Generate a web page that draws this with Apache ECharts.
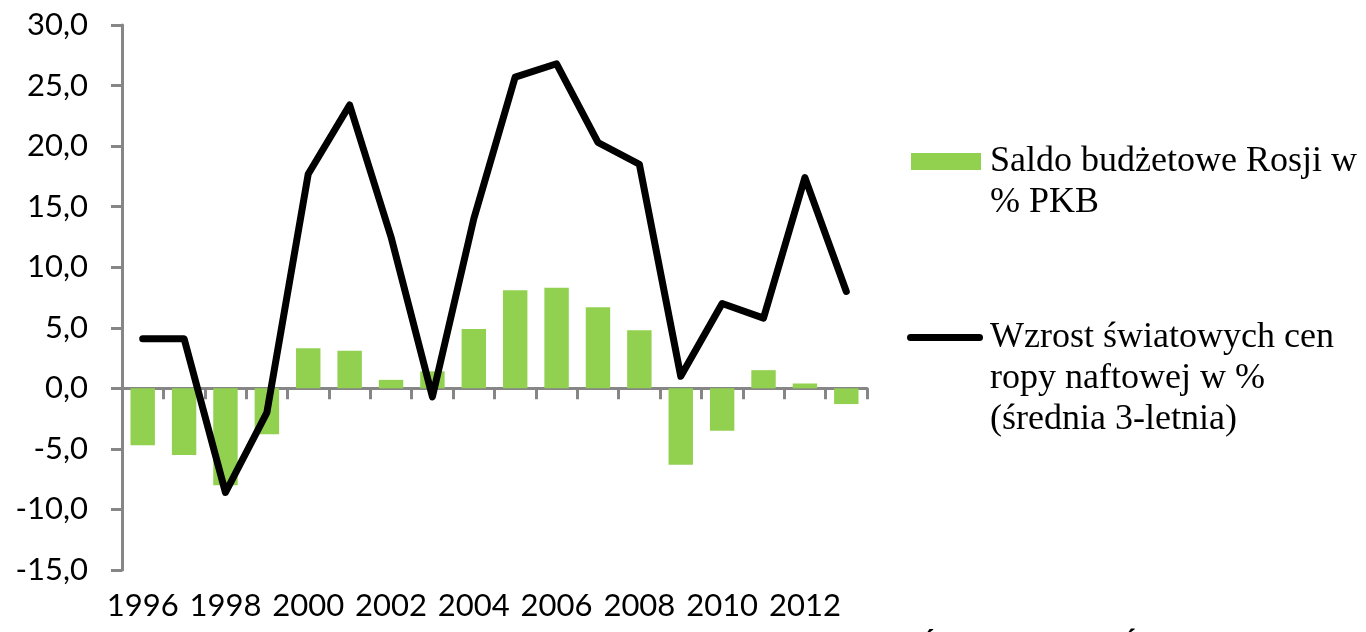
<!DOCTYPE html>
<html><head><meta charset="utf-8">
<script src="https://cdn.jsdelivr.net/npm/echarts@6/dist/echarts.min.js"></script>
<style>html,body{margin:0;padding:0;background:#fff;overflow:hidden}#c{width:1366px;height:632px}</style>
</head><body><div id="c"></div>
<script>
// ---- data ----
const years = ['1996','1997','1998','1999','2000','2001','2002','2003','2004','2005','2006','2007','2008','2009','2010','2011','2012','2013'];
const budgetBalance = [-4.7, -5.5, -8.0, -3.8, 3.3, 3.1, 0.7, 1.4, 4.9, 8.1, 8.3, 6.7, 4.8, -6.3, -3.5, 1.5, 0.4, -1.3];
const oilPriceGrowth = [4.1, 4.1, -8.6, -2.0, 17.7, 23.4, 12.5, -0.7, 14.0, 25.7, 26.8, 20.3, 18.5, 1.0, 7.0, 5.8, 17.4, 8.0];
const yMin = -15, yMax = 30, yStep = 5;
const seriesBarName = 'Saldo budżetowe Rosji w % PKB';
const seriesLineName = 'Wzrost światowych cen ropy naftowej w % (średnia 3-letnia)';
const legendBarLines = ['Saldo budżetowe Rosji w', '% PKB'];
const legendLineLines = ['Wzrost światowych cen', 'ropy naftowej w %', '(średnia 3-letnia)'];
const sourceText = 'Źródło: Bank Światowy, MFW';

// ---- chart ----
const axisGray = '#868686';
const chart = echarts.init(document.getElementById('c'), null, {renderer: 'canvas'});
const legendText = {fontFamily: '"Liberation Serif", "Times New Roman", serif', fontSize: 36, lineHeight: 41, color: '#000'};
const capsule = 'path://M3.5,0H72.5A3.5,3.5,0,0,1,72.5,7H3.5A3.5,3.5,0,0,1,3.5,0Z';
chart.setOption({
  animation: false,
  backgroundColor: '#fff',
  grid: {left: 122, right: 499, top: 25, bottom: 62, containLabel: false},
  legend: [
    {
      data: [{name: seriesBarName, icon: 'rect'}], orient: 'vertical', left: 911, top: 100, padding: 0,
      itemWidth: 70, itemHeight: 17, selectedMode: false,
      textStyle: Object.assign({padding: [0, 0, 0, 4]}, legendText),
      formatter: () => '\n' + legendBarLines.join('\n')
    },
    {
      data: [{name: seriesLineName, icon: capsule, itemStyle: {color: '#000'}}], orient: 'vertical', left: 907, top: 235, padding: 0,
      itemWidth: 76, itemHeight: 7, selectedMode: false,
      textStyle: Object.assign({padding: [0, 0, 0, 2]}, legendText),
      formatter: () => '\n\n' + legendLineLines.join('\n')
    }
  ],
  xAxis: [
    {
      type: 'category', data: years, position: 'top', boundaryGap: true,
      axisLine: {show: true, onZero: true, lineStyle: {color: axisGray, width: 3}},
      axisTick: {show: true, inside: true, length: 11, interval: 0, lineStyle: {color: axisGray, width: 3}},
      axisLabel: {show: false}, splitLine: {show: false}
    },
    {
      type: 'category', data: years, position: 'bottom', boundaryGap: true,
      axisLine: {show: false, onZero: false}, axisTick: {show: false},
      axisLabel: {interval: 1, fontFamily: 'Lato', fontSize: 31, color: '#000', margin: 20},
      splitLine: {show: false}
    }
  ],
  yAxis: {
    type: 'value', min: yMin, max: yMax, interval: yStep,
    axisLine: {show: true, lineStyle: {color: axisGray, width: 3}},
    axisTick: {show: true, length: 11, lineStyle: {color: axisGray, width: 3}},
    axisLabel: {fontFamily: 'Lato', fontSize: 31, color: '#000', margin: 34,
      formatter: v => v.toFixed(1).replace('.', ',')},
    splitLine: {show: false}
  },
  series: [
    {
      name: seriesBarName, type: 'bar', xAxisIndex: 0, data: budgetBalance,
      barCategoryGap: '41%', itemStyle: {color: '#92D050'}, z: 1
    },
    {
      name: seriesLineName, type: 'line', xAxisIndex: 0, data: oilPriceGrowth,
      symbol: 'none', showSymbol: false,
      lineStyle: {color: '#000', width: 7, cap: 'round', join: 'round'},
      itemStyle: {color: '#000'}, z: 3
    }
  ],
  graphic: [
    {type: 'text', left: 917, top: 633, silent: true,
      style: {text: sourceText, font: '36px "Liberation Serif"', fill: '#000'}}
  ]
});
</script>
</body></html>
